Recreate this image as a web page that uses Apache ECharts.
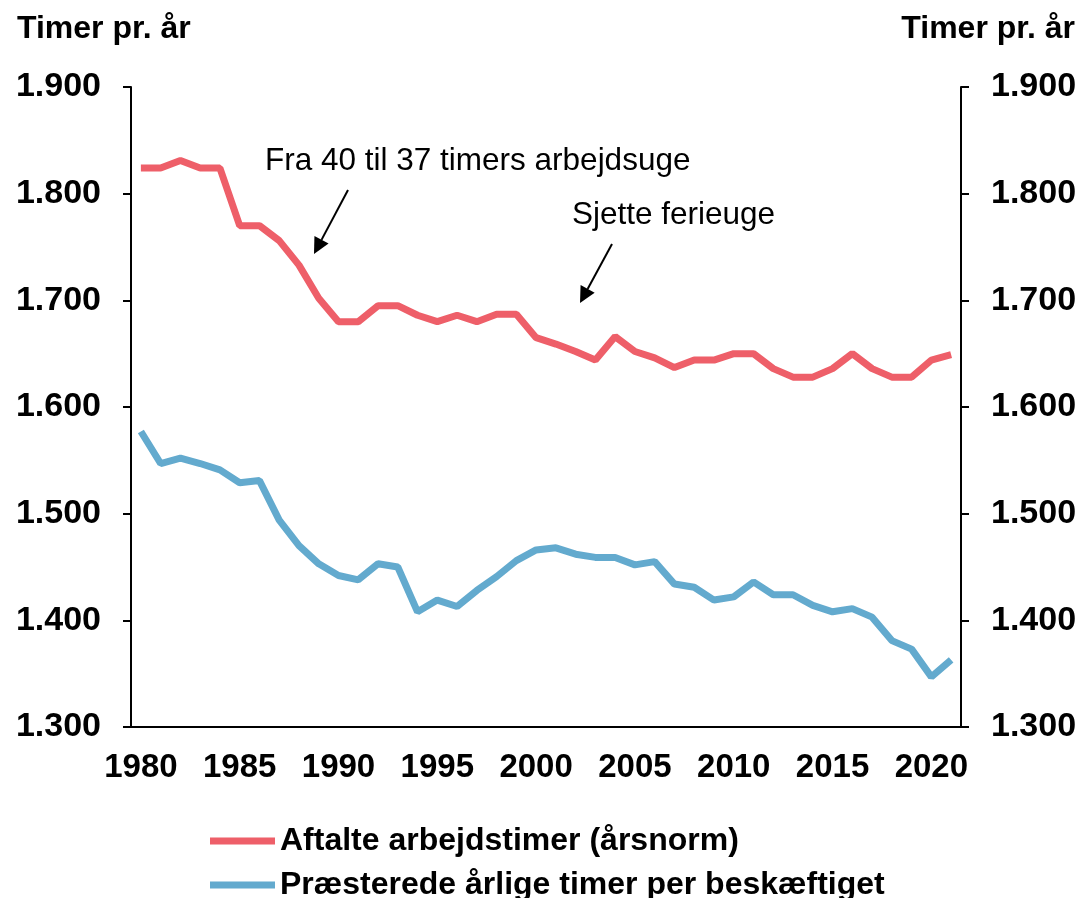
<!doctype html>
<html>
<head>
<meta charset="utf-8"/>
<title>Timer pr. år</title>
<script src="https://cdn.jsdelivr.net/npm/echarts@6/dist/echarts.min.js"></script>
<style>
body { margin: 0; background: #fff; }
#chart { width: 1089px; height: 898px; }
</style>
</head>
<body>
<div id="chart"></div>
<script>
// år 1980-2021
const years = [];
for (let y = 1980; y <= 2021; y++) years.push(String(y));

// aftalte arbejdstimer (årsnorm)
const aftalte = [1824, 1824, 1831, 1824, 1824, 1770, 1770, 1756, 1733, 1702,
    1680, 1680, 1695, 1695, 1686, 1680, 1686, 1680, 1687, 1687,
    1665, 1659, 1652, 1644, 1666, 1652, 1646, 1637, 1644, 1644,
    1650, 1650, 1636, 1628, 1628, 1636, 1650, 1636, 1628, 1628,
    1644, 1649];

// præsterede årlige timer per beskæftiget
const praesterede = [1577, 1547, 1552, 1547, 1541, 1529, 1531, 1494, 1470, 1453,
    1442, 1438, 1453, 1450, 1408, 1419, 1413, 1428, 1441, 1456,
    1466, 1468, 1462, 1459, 1459, 1452, 1455, 1434, 1431, 1419,
    1422, 1436, 1424, 1424, 1414, 1408, 1411, 1403, 1381, 1373,
    1347, 1363];

const seriesNames = ['Aftalte arbejdstimer (årsnorm)', 'Præsterede årlige timer per beskæftiget'];
const yTicks = { min: 1300, max: 1900, interval: 100 };

const font = '"Liberation Sans", Arial, sans-serif';
const red = '#EE5F69';
const blue = '#63AACE';

const fmt = v => (v / 1000).toFixed(3);

const yAxisBase = pos => ({
    type: 'value',
    position: pos,
    min: yTicks.min, max: yTicks.max, interval: yTicks.interval,
    axisLine: { show: true, lineStyle: { color: '#000', width: 2 } },
    axisTick: { show: true, length: 8, lineStyle: { color: '#000', width: 2 } },
    splitLine: { show: false },
    axisLabel: { formatter: fmt, color: '#000', fontFamily: font, fontWeight: 'bold', fontSize: 34, margin: 30 }
});

const legendBase = (name, top) => ({
    left: 205, top: top,
    icon: 'rect',
    itemWidth: 65, itemHeight: 7,
    textStyle: { color: '#000', fontFamily: font, fontWeight: 'bold', fontSize: 32 },
    data: [name]
});

function arrow(x1, y1, x2, y2) {
    const a = Math.atan2(y2 - y1, x2 - x1);
    const L = 16, W = 8;
    const bx = x2 - L * Math.cos(a), by = y2 - L * Math.sin(a);
    const px = -Math.sin(a) * W, py = Math.cos(a) * W;
    return [
        { type: 'line', shape: { x1: x1, y1: y1, x2: bx, y2: by }, style: { stroke: '#000', lineWidth: 2 } },
        { type: 'polygon', shape: { points: [[x2, y2], [bx + px, by + py], [bx - px, by - py]] }, style: { fill: '#000' } }
    ];
}

const chart = echarts.init(document.getElementById('chart'));
chart.setOption({
    animation: false,
    grid: { left: 131, right: 128, top: 87, bottom: 171 },
    xAxis: {
        type: 'category',
        data: years,
        boundaryGap: true,
        axisLine: { lineStyle: { color: '#000', width: 2 } },
        axisTick: { interval: 0, length: 8, lineStyle: { color: '#000', width: 2 } },
        axisLabel: { interval: 4, color: '#000', fontFamily: font, fontWeight: 'bold', fontSize: 33, margin: 24 }
    },
    yAxis: [yAxisBase('left'), yAxisBase('right')],
    legend: [legendBase(seriesNames[0], 820), legendBase(seriesNames[1], 864)],
    series: [
        {
            name: seriesNames[0], type: 'line', data: aftalte,
            symbol: 'none', lineStyle: { color: red, width: 7 }, itemStyle: { color: red }
        },
        {
            name: seriesNames[1], type: 'line', data: praesterede,
            symbol: 'none', lineStyle: { color: blue, width: 7 }, itemStyle: { color: blue }
        }
    ],
    graphic: [
        { type: 'text', left: 17, top: 13, style: { text: 'Timer pr. år', font: 'bold 32px ' + font, fill: '#000' } },
        { type: 'text', right: 14, top: 13, style: { text: 'Timer pr. år', font: 'bold 32px ' + font, fill: '#000' } },
        { type: 'text', left: 265, top: 145, style: { text: 'Fra 40 til 37 timers arbejdsuge', font: '31.5px ' + font, fill: '#000' } },
        { type: 'text', left: 572, top: 199, style: { text: 'Sjette ferieuge', font: '31.5px ' + font, fill: '#000' } },
        ...arrow(348, 190, 314, 254),
        ...arrow(612, 244, 580, 303)
    ]
});
</script>
</body>
</html>
